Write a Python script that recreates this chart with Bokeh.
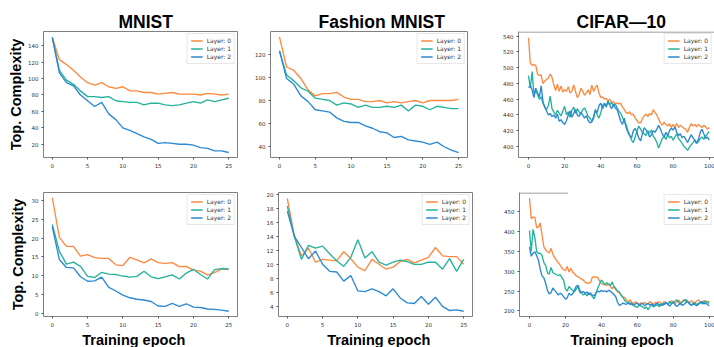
from bokeh.plotting import figure
from bokeh.layouts import column, row
from bokeh.models import FixedTicker, Title, BoxAnnotation
from bokeh.embed import file_html
from bokeh.resources import INLINE

# ---------------- data ----------------
layer_names = ["Layer: 0", "Layer: 1", "Layer: 2"]
layer_colors = ["#fd8a41", "#25b29b", "#2b89d2"]

epochs_short = list(range(26))
epochs_cifar = list(range(101))

mnist_top_l0 = [150, 123, 117, 110, 102, 95, 92, 95, 90, 88, 90, 85, 85, 83, 83, 81, 82, 83, 81, 81, 81, 80, 82, 81, 80, 81]
mnist_top_l1 = [150, 110, 98, 93, 85, 78, 78, 77, 78, 73, 72, 71, 71, 68, 70, 70, 68, 67, 68, 70, 72, 70, 74, 72, 74, 76]
mnist_top_l2 = [150, 107, 95, 91, 80, 73, 66, 71, 57, 50, 40, 37, 33, 29, 26, 21, 22, 21, 20, 20, 19, 16, 15, 12, 12, 10]

fashion_top_l0 = [135, 109, 106, 99, 89, 84, 86, 86, 87, 83, 81, 81, 79, 79, 80, 78, 79, 78, 79, 80, 78, 80, 80, 80, 80, 81]
fashion_top_l1 = [123, 102, 97, 91, 88, 82, 81, 80, 76, 78, 77, 74, 76, 74, 74, 75, 74, 76, 71, 76, 75, 72, 75, 74, 73, 73]
fashion_top_l2 = [123, 99, 94, 84, 79, 72, 71, 70, 65, 62, 61, 61, 58, 56, 53, 52, 48, 49, 46, 45, 44, 42, 44, 40, 37, 35]

cifar_top_l0 = [538, 506, 503, 504, 503, 492, 490, 491, 480, 483, 485, 487, 492, 488, 478, 471, 479, 470, 477, 469,
                472, 470, 476, 468, 470, 478, 470, 462, 466, 474, 470, 465, 468, 472, 466, 478, 470, 475, 478, 468,
                462, 463, 460, 461, 458, 460, 456, 457, 454, 455, 454, 455, 450, 447, 443, 442, 444, 440, 441, 436,
                433, 430, 430, 435, 439, 441, 438, 442, 440, 447, 443, 440, 435, 430, 427, 431, 428, 426, 429, 424,
                428, 425, 429, 424, 427, 425, 423, 422, 418, 424, 429, 426, 428, 425, 428, 426, 424, 427, 425, 422, 424]
cifar_top_l1 = [490, 474, 495, 467, 471, 466, 460, 463, 455, 450, 447, 452, 464, 448, 444, 440, 446, 442, 439, 445,
                451, 440, 444, 437, 446, 450, 442, 448, 444, 441, 447, 449, 444, 438, 436, 432, 435, 447, 440, 436,
                443, 452, 455, 450, 458, 453, 456, 451, 454, 449, 445, 442, 437, 431, 428, 420, 414, 408, 405, 412,
                419, 426, 422, 418, 416, 414, 420, 417, 421, 413, 410, 405, 398, 404, 410, 413, 409, 415, 411, 413,
                408, 412, 416, 410, 407, 404, 400, 398, 395, 399, 402, 405, 408, 404, 406, 410, 412, 409, 413, 416, 419]
cifar_top_l2 = [475, 477, 472, 462, 474, 468, 463, 477, 457, 450, 445, 440, 442, 438, 440, 436, 441, 432, 434, 430,
                428, 433, 440, 445, 437, 442, 447, 440, 438, 443, 440, 436, 439, 433, 430, 431, 438, 446, 443, 452,
                455, 448, 454, 451, 457, 452, 448, 454, 449, 447, 440, 432, 428, 436, 424, 418, 414, 411, 420, 423,
                418, 411, 407, 416, 424, 421, 418, 412, 415, 420, 418, 422, 427, 422, 416, 412, 418, 414, 420, 423,
                421, 425, 418, 414, 416, 411, 413, 409, 405, 410, 415, 411, 408, 404, 409, 418, 422, 416, 410, 412, 408]

mnist_bot_l0 = [30.8, 20.2, 17.8, 17.8, 15.2, 15.6, 14.8, 14.6, 14.6, 12.9, 12.7, 14.9, 14.2, 13.4, 14.5, 13.5, 13.3, 13.5, 12.4, 12.5, 11.5, 11.2, 10.2, 10.8, 11.8, 11.6]
mnist_bot_l1 = [23.7, 16.5, 13.1, 13.6, 12.5, 9.8, 9.5, 10.9, 10.4, 10.3, 9.9, 9.6, 9.8, 11.2, 9.7, 9.2, 9.7, 10.2, 9.1, 10.7, 11.7, 10.3, 9.1, 11.6, 11.9, 11.8]
mnist_bot_l2 = [23.0, 14.3, 12.2, 12.1, 9.7, 8.5, 8.6, 9.6, 6.9, 5.9, 4.8, 4.1, 3.7, 3.5, 3.1, 1.9, 1.8, 2.6, 1.8, 2.5, 1.6, 1.5, 1.1, 1.0, 0.8, 0.5]

fashion_bot_l0 = [19.4, 14.0, 11.2, 12.3, 10.3, 10.7, 10.6, 10.5, 11.8, 10.8, 9.6, 9.1, 10.7, 10.0, 9.3, 9.6, 10.4, 10.7, 10.2, 10.6, 11.0, 12.4, 11.2, 11.1, 11.1, 10.0]
fashion_bot_l1 = [18.3, 14.0, 10.7, 12.7, 12.3, 12.6, 11.5, 10.5, 9.7, 11.0, 13.5, 10.9, 11.8, 10.3, 9.9, 10.3, 10.6, 10.4, 10.0, 10.0, 10.3, 10.3, 9.3, 10.8, 9.0, 10.7]
fashion_bot_l2 = [17.6, 14.0, 12.4, 10.8, 11.9, 10.0, 9.0, 8.9, 7.6, 8.4, 6.2, 6.1, 6.5, 6.1, 5.5, 6.5, 5.2, 4.5, 4.4, 5.4, 4.3, 5.3, 4.0, 3.4, 3.5, 3.3]

cifar_bot_l0 = [485, 433, 437, 436, 410, 412, 422, 392, 362, 354, 350, 346, 358, 343, 335, 328, 322, 316, 309, 304,
                302, 312, 298, 308, 298, 294, 289, 286, 284, 280, 278, 272, 270, 270, 272, 286, 285, 286, 284, 275,
                270, 266, 268, 264, 268, 262, 256, 262, 254, 248, 246, 240, 236, 233, 227, 224, 228, 221, 219, 223,
                220, 217, 221, 218, 222, 217, 219, 224, 220, 216, 222, 219, 223, 220, 218, 224, 221, 217, 220, 226,
                222, 219, 223, 227, 221, 224, 229, 223, 225, 220, 226, 222, 220, 225, 228, 223, 221, 226, 224, 222, 225]
cifar_bot_l1 = [403, 350, 406, 385, 350, 345, 346, 340, 322, 315, 296, 293, 310, 297, 294, 292, 289, 292, 285, 278,
                256, 250, 262, 256, 252, 248, 255, 262, 247, 245, 240, 244, 238, 246, 242, 236, 231, 245, 258, 268,
                278, 273, 266, 271, 268, 264, 273, 262, 256, 250, 248, 239, 234, 226, 222, 219, 221, 216, 213, 211,
                209, 215, 212, 210, 206, 210, 203, 212, 215, 210, 213, 216, 211, 214, 219, 216, 221, 218, 224, 219,
                222, 225, 228, 221, 218, 223, 226, 229, 224, 218, 214, 217, 221, 216, 219, 222, 218, 221, 225, 222, 219]
cifar_bot_l2 = [362, 338, 346, 349, 340, 328, 305, 288, 284, 270, 252, 243, 246, 258, 252, 247, 240, 245, 242, 236,
                230, 233, 245, 240, 243, 252, 262, 265, 252, 247, 249, 244, 248, 241, 245, 240, 238, 246, 250, 248,
                252, 249, 251, 248, 252, 250, 246, 241, 236, 222, 214, 216, 220, 218, 217, 221, 216, 219, 215, 218,
                220, 214, 217, 219, 213, 216, 219, 215, 218, 213, 216, 220, 215, 217, 214, 218, 221, 216, 212, 218,
                222, 215, 211, 216, 219, 214, 217, 221, 224, 218, 215, 219, 216, 213, 217, 221, 224, 218, 220, 216, 213]

ticks_x_short = [0, 5, 10, 15, 20, 25]
ticks_x_cifar = [0, 20, 40, 60, 80, 100]
ticks_y_mnist_top = [20, 40, 60, 80, 100, 120, 140]
ticks_y_fashion_top = [40, 60, 80, 100, 120]
ticks_y_cifar_top = [400, 420, 440, 460, 480, 500, 520, 540]
ticks_y_mnist_bot = [0, 5, 10, 15, 20, 25, 30]
ticks_y_fashion_bot = [4, 6, 8, 10, 12, 14, 16, 18, 20]
ticks_y_cifar_bot = [200, 250, 300, 350, 400, 450]

SPINE = "#808080"
BOLD_FONT = "Liberation Sans"
SMALL_FONT = "DejaVu Sans"


def make_panel(width, height, borders, xr, yr, xticks, yticks, epochs, series,
               title=None, title_offset=0, ylabel=None, ylabel_standoff=4,
               xlabel=None, xlabel_offset=0, clipped=False, top_line_end=None,
               top_line_thick=1.0):
    left, right, top, bottom = borders
    p = figure(width=width, height=height, x_range=xr, y_range=yr,
               output_backend="svg", toolbar_location=None,
               min_border_left=left, min_border_right=right,
               min_border_top=top, min_border_bottom=bottom)
    p.background_fill_color = "white"
    p.border_fill_color = "white"
    p.xgrid.visible = False
    p.ygrid.visible = False

    for name, col, ys in zip(layer_names, layer_colors, series):
        p.line(epochs, ys, line_color=col, line_width=1.35, legend_label=name)

    for ax, tk in ((p.xaxis, xticks), (p.yaxis, yticks)):
        ax.ticker = FixedTicker(ticks=tk)
        ax.major_label_text_font_size = "5.5px"
        ax.major_label_text_font = SMALL_FONT
        ax.major_label_text_color = "#333333"
        ax.major_tick_out = 2
        ax.major_tick_in = 0
        ax.minor_tick_out = 0
        ax.minor_tick_in = 0
        ax.major_tick_line_color = "#555555"
        ax.major_label_standoff = 3

    if clipped:
        p.outline_line_color = None
        p.xaxis.axis_line_color = SPINE
        p.yaxis.axis_line_color = SPINE
        p.add_layout(BoxAnnotation(left=xr[0], right=top_line_end,
                                   top=yr[1], bottom=yr[1] - top_line_thick,
                                   fill_color=SPINE, fill_alpha=1.0, line_color=None))
    else:
        p.outline_line_color = SPINE
        p.outline_line_width = 1
        p.xaxis.axis_line_color = None
        p.yaxis.axis_line_color = None

    if title:
        p.title.text = title
        p.title.align = "left"
        p.title.offset = title_offset
        p.title.text_font = BOLD_FONT
        p.title.text_font_style = "bold"
        p.title.text_font_size = "17.5px"
        p.title.standoff = 0
        p.title.text_color = "black"

    if ylabel:
        p.yaxis.axis_label = ylabel
        p.yaxis.axis_label_text_font = BOLD_FONT
        p.yaxis.axis_label_text_font_style = "bold"
        p.yaxis.axis_label_text_font_size = "14.5px"
        p.yaxis.axis_label_text_color = "black"
        p.yaxis.axis_label_standoff = ylabel_standoff

    if xlabel:
        p.add_layout(Title(text=xlabel, align="left", offset=xlabel_offset,
                           text_font=BOLD_FONT, text_font_style="bold",
                           text_font_size="14.5px", text_color="black", standoff=0), "below")

    lg = p.legend[0]
    lg.location = "top_right"
    lg.margin = 2
    lg.padding = 3
    lg.spacing = 1
    lg.glyph_width = 12
    lg.glyph_height = 7
    lg.label_height = 7
    lg.label_standoff = 4
    lg.label_text_font = SMALL_FONT
    lg.label_text_font_size = "6px"
    lg.label_text_color = "#333333"
    lg.border_line_color = "#d0d0d0"
    lg.border_line_width = 1
    lg.background_fill_alpha = 0.85
    return p


cifar_xr = (-5.54, 102.9)

f1 = make_panel(250, 175, (43, 13, 29, 18), (-1.25, 26.25), (3.9, 157.3),
                ticks_x_short, ticks_y_mnist_top, epochs_short,
                [mnist_top_l0, mnist_top_l1, mnist_top_l2],
                title="MNIST", title_offset=75, ylabel="Top. Complexity", ylabel_standoff=1)
f2 = make_panel(243, 175, (20, 26, 31, 18), (-1.25, 26.25), (30.7, 139.7),
                ticks_x_short, ticks_y_fashion_top, epochs_short,
                [fashion_top_l0, fashion_top_l1, fashion_top_l2],
                title="Fashion MNIST", title_offset=48)
f3 = make_panel(221, 175, (25, 0, 28, 13), cifar_xr, (386, 546),
                ticks_x_cifar, ticks_y_cifar_top, epochs_cifar,
                [cifar_top_l0, cifar_top_l1, cifar_top_l2],
                title="CIFAR\u201410", title_offset=58, clipped=True, top_line_end=cifar_xr[1],
                top_line_thick=1.2)

f4 = make_panel(250, 172, (43, 13, 16, 30), (-1.25, 26.25), (-0.9, 32.2),
                ticks_x_short, ticks_y_mnist_bot, epochs_short,
                [mnist_bot_l0, mnist_bot_l1, mnist_bot_l2],
                ylabel="Top. Complexity", ylabel_standoff=3,
                xlabel="Training epoch", xlabel_offset=38.7)
f5 = make_panel(243, 172, (28, 21, 17, 30), (-1.25, 26.25), (2.55, 20.25),
                ticks_x_short, ticks_y_fashion_bot, epochs_short,
                [fashion_bot_l0, fashion_bot_l1, fashion_bot_l2],
                xlabel="Training epoch", xlabel_offset=48.7)
f6 = make_panel(221, 172, (26, 0, 12, 28), cifar_xr, (186, 499),
                ticks_x_cifar, ticks_y_cifar_bot, epochs_cifar,
                [cifar_bot_l0, cifar_bot_l1, cifar_bot_l2],
                clipped=True, top_line_end=21.4, top_line_thick=2.4,
                xlabel="Training epoch", xlabel_offset=51)

layout = column(row(f1, f2, f3), row(f4, f5, f6))

with open("out.html", "w") as fh:
    fh.write(file_html(layout, INLINE))
